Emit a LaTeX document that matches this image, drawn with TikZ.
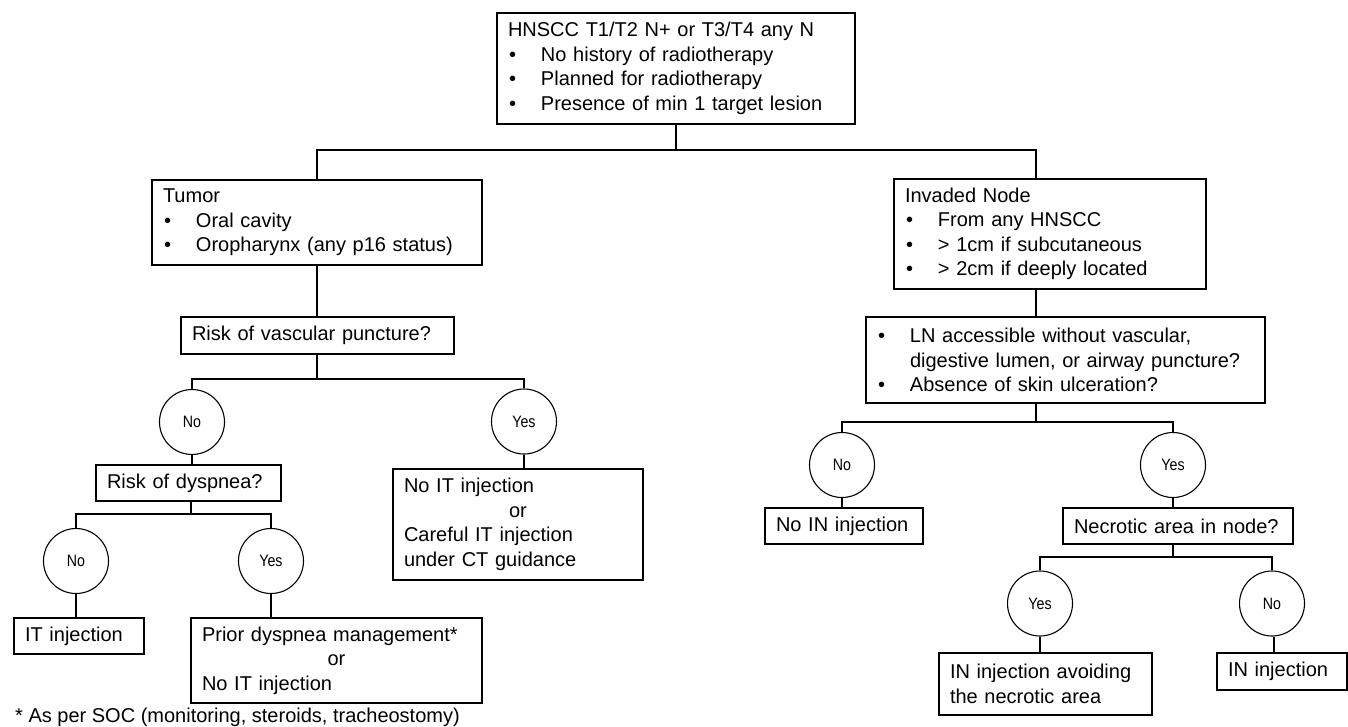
\documentclass[tikz,border=0pt]{standalone}
\usepackage{fontspec}
\setmainfont{Liberation Sans}
\newfontfamily\circfont[FakeStretch=0.86]{Liberation Sans}
\newcommand\bl[1]{\makebox[33pt][l]{\hspace{1pt}\textbullet}#1}
\tikzset{
  box/.style={draw, line width=1.2pt, inner xsep=11pt, inner ysep=0pt, align=left,
    font=\fontsize{20}{24.5}\selectfont, anchor=center},
  circ/.style={draw, circle, line width=1.1pt, minimum size=65pt, inner sep=0pt,
    font=\circfont\fontsize{16.5}{16.5}\selectfont},
  conn/.style={line width=1.8pt},
}
\begin{document}
\begin{tikzpicture}[x=1pt,y=-1pt]
\useasboundingbox (0,0) rectangle (1348,726);
% boxes
\node[box, minimum width=358pt, minimum height=111pt, text width=336pt] (top) at (676,68.5)
  {HNSCC T1/T2 N+ or T3/T4 any N\\ \bl{No history of radiotherapy}\\ \bl{Planned for radiotherapy}\\ \bl{Presence of min 1 target lesion}};
\node[box, minimum width=330pt, minimum height=85pt, text width=308pt] (tumor) at (317,222.5)
  {Tumor\\ \bl{Oral cavity}\\ \bl{Oropharynx (any p16 status)}};
\node[box, minimum width=273pt, minimum height=37pt, text width=251pt] (riskv) at (317.5,335.5)
  {Risk of vascular puncture?};
\node[circ] (noA) at (192,422) {No};
\node[circ] (yesA) at (524,421.5) {Yes};
\node[box, minimum width=185pt, minimum height=36pt, text width=163pt] (riskd) at (188.5,483)
  {Risk of dyspnea?};
\node[circ] (noB) at (76,561) {No};
\node[circ] (yesB) at (271,561) {Yes};
\node[box, minimum width=130pt, minimum height=36pt, text width=108pt] (itinj) at (79,636)
  {IT injection};
\node[box, minimum width=291pt, minimum height=85pt, text width=269pt] (prior) at (336.5,660.5)
  {Prior dyspnea management*\\ \makebox[269pt][c]{or}\\ No IT injection};
\node[box, minimum width=250pt, minimum height=111pt, text width=228pt] (noit) at (518,524.5)
  {No IT injection\\ \makebox[228pt][c]{or}\\ Careful IT injection\\ under CT guidance};
\node[box, minimum width=312pt, minimum height=110pt, text width=290pt] (invaded) at (1050,234)
  {Invaded Node\\ \bl{From any HNSCC}\\ \bl{> 1cm if subcutaneous}\\ \bl{> 2cm if deeply located}};
\node[box, minimum width=399pt, minimum height=86pt, text width=377pt] (ln) at (1065.5,360)
  {\bl{LN accessible without vascular,}\\ \hspace*{33pt}digestive lumen, or airway puncture?\\ \bl{Absence of skin ulceration?}};
\node[circ] (noC) at (842,465) {No};
\node[circ] (yesC) at (1173,465) {Yes};
\node[box, minimum width=158pt, minimum height=36pt, text width=136pt] (noin) at (844,526)
  {No IN injection};
\node[box, minimum width=230pt, minimum height=36pt, text width=208pt] (necro) at (1178,526)
  {Necrotic area in node?};
\node[circ] (yesD) at (1040,603.5) {Yes};
\node[circ] (noD) at (1272,603.5) {No};
\node[box, minimum width=213pt, minimum height=62pt, text width=191pt] (avoid) at (1045.5,684)
  {IN injection avoiding\\ the necrotic area};
\node[box, minimum width=130pt, minimum height=37pt, text width=108pt] (ininj) at (1282,671.5)
  {IN injection};
\node[anchor=base west, inner sep=0pt, font=\fontsize{20}{24}\selectfont] (fn) at (15,722)
  {* As per SOC (monitoring, steroids, tracheostomy)};
% junctions
\coordinate (j1) at (676,150);
\coordinate (invin) at (1036,179);
\coordinate (j2) at (317,379);
\coordinate (j3) at (191,514);
\coordinate (j4) at (1036,422);
\coordinate (j5) at (1173,557);
% connectors
\draw[conn] (top.south) -- (j1);
\draw[conn] (j1) -| (tumor.north);
\draw[conn] (j1) -| (invin);
\draw[conn] (invaded.south -| invin) -- (ln.north -| invin);
\draw[conn] (tumor.south) -- (riskv.north -| tumor.south);
\draw[conn] (riskv.south -| j2) -- (j2);
\draw[conn] (j2) -| (noA.north);
\draw[conn] (j2) -| (yesA.north);
\draw[conn] (noA.south) -- (noA.south |- riskd.north);
\draw[conn] (yesA.south) -- (yesA.south |- noit.north);
\draw[conn] (riskd.south -| j3) -- (j3);
\draw[conn] (j3) -| (noB.north);
\draw[conn] (j3) -| (yesB.north);
\draw[conn] (noB.south) -- (noB.south |- itinj.north);
\draw[conn] (yesB.south) -- (yesB.south |- prior.north);
\draw[conn] (ln.south -| j4) -- (j4);
\draw[conn] (j4) -| (noC.north);
\draw[conn] (j4) -| (yesC.north);
\draw[conn] (noC.south) -- (noC.south |- noin.north);
\draw[conn] (yesC.south) -- (yesC.south |- necro.north);
\draw[conn] (necro.south -| j5) -- (j5);
\draw[conn] (j5) -| (yesD.north);
\draw[conn] (j5) -| (noD.north);
\draw[conn] (yesD.south) -- (yesD.south |- avoid.north);
\draw[conn] ([xshift=2pt]noD.south) -- ([xshift=2pt]noD.south |- ininj.north);
\end{tikzpicture}
\end{document}
